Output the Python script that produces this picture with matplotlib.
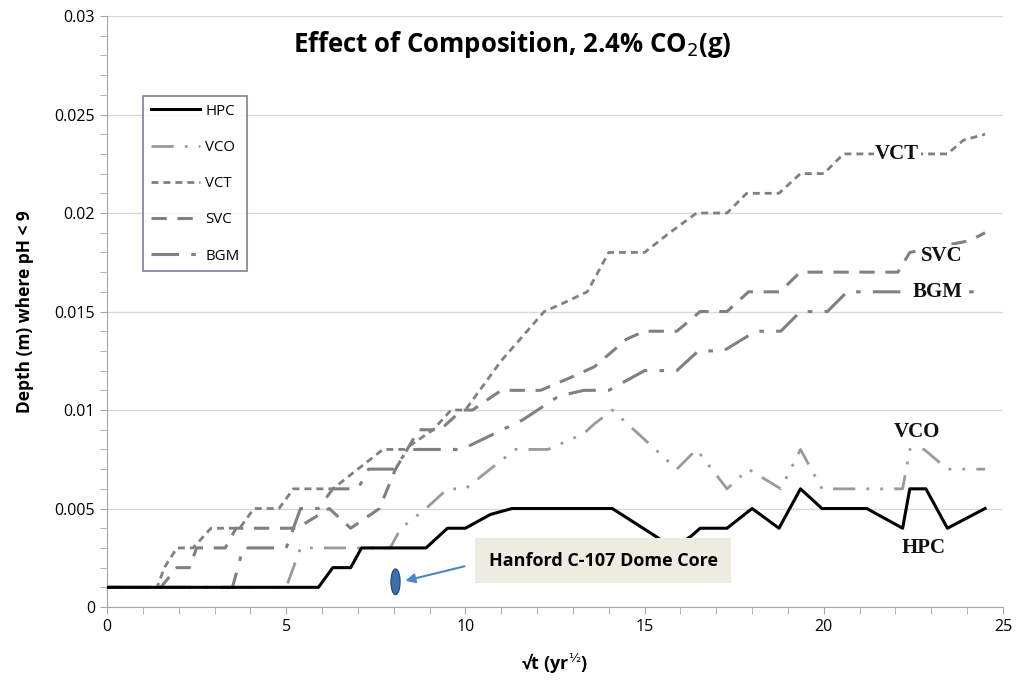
import numpy as np
import matplotlib
matplotlib.use("Agg")
import matplotlib.pyplot as plt
from matplotlib.patches import Ellipse
from matplotlib.ticker import MultipleLocator, FuncFormatter

# depth (m) where pH < 9 against sqrt(t)
hpc_x = [0, 5.9, 6.3, 6.8, 7.1, 8.9, 9.5, 10.0, 10.7, 11.3, 14.1, 15.3, 15.8, 16.3, 16.55, 17.3,
         18.0, 18.75, 19.35, 19.95, 21.2, 22.2, 22.4, 22.85, 23.45, 24.5]
hpc_y = [0.001, 0.001, 0.002, 0.002, 0.003, 0.003, 0.004, 0.004, 0.0047, 0.005, 0.005, 0.0036, 0.003,
         0.0036, 0.004, 0.004, 0.005, 0.004, 0.006, 0.005, 0.005, 0.004, 0.006, 0.006, 0.004, 0.005]

vco_x = [0, 5.0, 5.4, 7.9, 8.2, 8.9, 9.5, 10.0, 10.9, 11.4, 12.3, 13.3, 13.6, 14.1, 15.9, 16.45,
         17.3, 17.9, 18.8, 19.35, 19.95, 22.2, 22.4, 22.8, 23.45, 24.5]
vco_y = [0.001, 0.001, 0.003, 0.003, 0.004, 0.005, 0.006, 0.006, 0.0073, 0.008, 0.008, 0.0088, 0.0093,
         0.010, 0.007, 0.008, 0.006, 0.007, 0.006, 0.008, 0.006, 0.006, 0.008, 0.008, 0.007, 0.007]

vct_x = [0, 1.4, 1.6, 1.95, 2.4, 2.9, 3.7, 4.1, 4.8, 5.2, 6.3, 7.0, 7.7, 8.3, 9.1, 9.6, 10.0, 11.0,
         12.2, 12.7, 13.4, 14.0, 15.0, 15.7, 16.45, 17.3, 17.85, 18.75, 19.35, 20.0, 20.55, 23.45, 23.9, 24.5]
vct_y = [0.001, 0.001, 0.002, 0.003, 0.003, 0.004, 0.004, 0.005, 0.005, 0.006, 0.006, 0.007, 0.008,
         0.008, 0.009, 0.010, 0.010, 0.0125, 0.015, 0.0154, 0.016, 0.018, 0.018, 0.019, 0.020, 0.020,
         0.021, 0.021, 0.022, 0.022, 0.023, 0.023, 0.0237, 0.024]

svc_x = [0, 1.5, 1.95, 2.3, 2.5, 3.3, 3.6, 5.3, 6.2, 6.8, 7.6, 8.05, 8.7, 9.3, 9.9, 10.2, 11.0, 12.1,
         13.0, 13.6, 14.5, 15.0, 15.9, 16.55, 17.3, 17.9, 18.78, 19.34, 22.07, 22.4, 24.08, 24.5]
svc_y = [0.001, 0.001, 0.002, 0.002, 0.003, 0.003, 0.004, 0.004, 0.005, 0.004, 0.005, 0.007, 0.009,
         0.009, 0.010, 0.010, 0.011, 0.011, 0.0117, 0.0122, 0.0136, 0.014, 0.014, 0.015, 0.015, 0.016,
         0.016, 0.017, 0.017, 0.018, 0.0186, 0.019]

bgm_x = [0, 3.5, 3.8, 5.0, 5.4, 5.9, 6.3, 7.0, 7.3, 8.0, 8.4, 9.9, 11.6, 12.6, 13.3, 14.0, 15.0, 15.9,
         16.5, 17.2, 18.1, 18.8, 19.35, 20.1, 20.65, 24.5]
bgm_y = [0.001, 0.001, 0.003, 0.003, 0.005, 0.005, 0.006, 0.006, 0.007, 0.007, 0.008, 0.008, 0.0095,
         0.0107, 0.011, 0.011, 0.012, 0.012, 0.013, 0.013, 0.014, 0.014, 0.015, 0.015, 0.016, 0.016]

serif = "Liberation Serif"
sans = "Open Sans"

fig = plt.figure(figsize=(10.27, 6.87), dpi=100)
ax = fig.add_axes([0.1042, 0.1164, 0.8724, 0.8603])

grey = "#808080"
ax.plot(hpc_x, hpc_y, color="black", lw=2.2, label="HPC", zorder=5)
ax.plot(vco_x, vco_y, color="#9a9a9a", lw=2, dashes=(8, 4, 1, 4, 1, 4), label="VCO")
ax.plot(vct_x, vct_y, color=grey, lw=2, dashes=(2.5, 1.8), label="VCT")
ax.plot(svc_x, svc_y, color=grey, lw=2.2, dashes=(5, 3.5), label="SVC")
ax.plot(bgm_x, bgm_y, color=grey, lw=2.2, dashes=(9, 4, 1.5, 4), label="BGM")

ax.set_xlim(0, 25)
ax.set_ylim(0, 0.03)
ax.xaxis.set_major_locator(MultipleLocator(5))
ax.xaxis.set_minor_locator(MultipleLocator(1))
ax.yaxis.set_major_locator(MultipleLocator(0.005))
ax.yaxis.set_minor_locator(MultipleLocator(0.001))
ax.yaxis.set_major_formatter(FuncFormatter(lambda v, p: "0" if v == 0 else ("%.3f" % v).rstrip("0")))
ax.grid(axis="y", color="#d9d9d9", lw=1)
ax.set_axisbelow(True)
for s in ["top", "right"]:
    ax.spines[s].set_visible(False)
for s in ["left", "bottom"]:
    ax.spines[s].set_color("#a6a6a6")
ax.tick_params(which="both", direction="out", color="#a6a6a6", labelsize=11.5)
ax.tick_params(which="major", length=5)
ax.tick_params(which="minor", length=5)
for lab in ax.get_xticklabels() + ax.get_yticklabels():
    lab.set_fontfamily(sans)

ax.set_xlabel("√t (yr$^{½}$)", fontsize=13, fontweight="bold", family=sans, labelpad=12)
ax.set_ylabel("Depth (m) where pH < 9", fontsize=12.5, fontweight="bold", family=sans, labelpad=15)

ax.text(0.452, 0.951, "Effect of Composition, 2.4% CO$_2$(g)", transform=ax.transAxes,
        ha="center", va="center", fontsize=18.5, fontweight="bold", family=sans)

leg = ax.legend(loc="upper left", bbox_to_anchor=(0.0402, 0.8646), handlelength=3.3,
                labelspacing=1.42, borderpad=0.5, handletextpad=0.35, borderaxespad=0, fancybox=False,
                prop={"family": sans, "size": 10.8})
leg.get_frame().set_edgecolor("#5f5f7f")
leg.get_frame().set_linewidth(1.2)

lab_kw = dict(fontsize=15, fontweight="bold", family=serif, color="#111111", ha="center", va="center")
ax.text(22.05, 0.0230, "VCT", bbox=dict(fc="white", ec="none", pad=1), **lab_kw)
ax.text(23.3, 0.0178, "SVC", bbox=dict(fc="white", ec="none", pad=1), **lab_kw)
ax.text(23.17, 0.0160, "BGM", bbox=dict(fc="white", ec="none", pad=1), **lab_kw)
ax.text(22.6, 0.0089, "VCO", **lab_kw)
ax.text(22.8, 0.0030, "HPC", **lab_kw)

# core sample marker and callout
ax.add_patch(Ellipse((8.05, 0.00128), 0.25, 0.0013, fc="#3d6fb0", ec="#2a4f80", lw=1, zorder=6))
ax.annotate("", xy=(8.25, 0.0013), xytext=(10.05, 0.0021),
            arrowprops=dict(arrowstyle="-|>", color="#4a86c8", lw=1.5, mutation_scale=14), zorder=6)
ax.text(13.85, 0.00235, "Hanford C-107 Dome Core", fontsize=13, fontweight="bold", family=sans,
        ha="center", va="center", zorder=7,
        bbox=dict(boxstyle="square,pad=0.75", fc="#eeece1", ec="none"))

fig.savefig("out.png", dpi=100)
